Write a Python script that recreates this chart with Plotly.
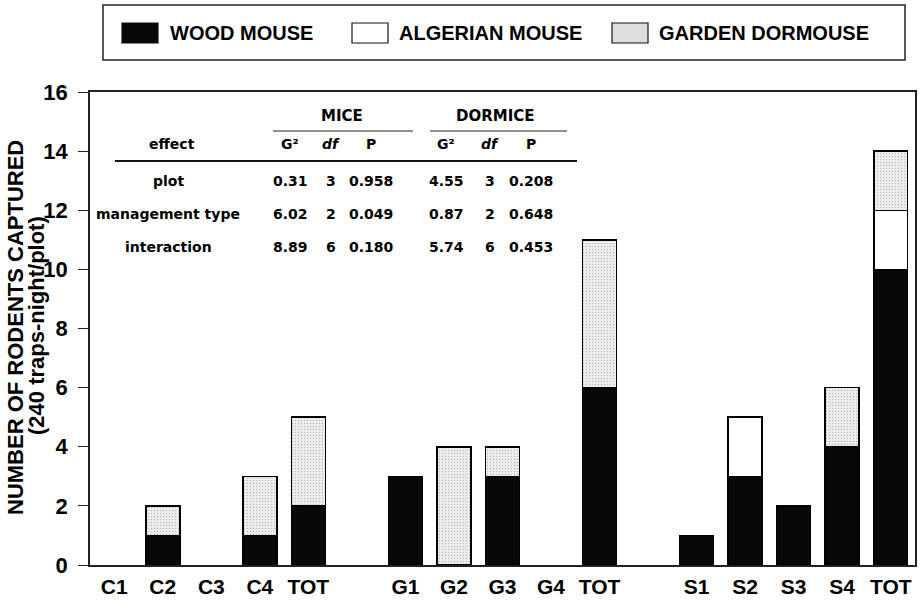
import plotly.graph_objects as go

# Capture counts per plot (240 traps-night per plot), grouped by management type
categories = ["C1", "C2", "C3", "C4", "TOT",
              "G1", "G2", "G3", "G4", "TOT",
              "S1", "S2", "S3", "S4", "TOT"]
wood_mouse = [0, 1, 0, 1, 2, 3, 0, 3, 0, 6, 1, 3, 2, 4, 10]
algerian_mouse = [0, 0, 0, 0, 0, 0, 0, 0, 0, 0, 0, 2, 0, 0, 2]
garden_dormouse = [0, 1, 0, 2, 3, 0, 4, 1, 0, 5, 0, 0, 0, 2, 2]

# G-test summary
effects = ["plot", "management type", "interaction"]
mice_g2 = ["0.31", "6.02", "8.89"]
mice_df = ["3", "2", "6"]
mice_p = ["0.958", "0.049", "0.180"]
dorm_g2 = ["4.55", "0.87", "5.74"]
dorm_df = ["3", "2", "6"]
dorm_p = ["0.208", "0.648", "0.453"]

GROUP = 5  # plots per management type, one empty slot between groups
xpos = [i + i // GROUP for i in range(len(categories))]


def nz(vals):
    return [v if v else None for v in vals]


FONT = "Liberation Sans, Arial, Helvetica, sans-serif"
TFONT = "DejaVu Sans, Verdana, sans-serif"
BAR_W = 0.7
OUTLINE = dict(color="black", width=1.5)

fig = go.Figure()
fig.add_bar(x=xpos, y=nz(wood_mouse), width=BAR_W, name="WOOD MOUSE",
            marker=dict(color="#080808", line=OUTLINE))
fig.add_bar(x=xpos, y=nz(algerian_mouse), width=BAR_W, name="ALGERIAN MOUSE",
            marker=dict(color="white", line=OUTLINE))
fig.add_bar(x=xpos, y=nz(garden_dormouse), width=BAR_W, name="GARDEN DORMOUSE",
            marker=dict(color="#e8e8e8", line=OUTLINE,
                        pattern=dict(shape=".", fgcolor="#8a8a8a", bgcolor="#eeeeee",
                                     size=3, solidity=0.2)))

# plot area in pixels: left, right, top, bottom
L, R, T, B = 90, 915, 92, 565


def pxx(x):
    return (x - L) / (R - L)


def pxy(y):
    return (B - y) / (B - T)


ann = []
shapes = []

# y axis title, two lines
ann.append(dict(x=pxx(15), y=pxy(328), text="NUMBER OF RODENTS CAPTURED", textangle=-90,
                font=dict(family=FONT, size=22, color="black", weight="bold")))
ann.append(dict(x=pxx(36), y=pxy(326), text="(240 traps-night/plot)", textangle=-90,
                font=dict(family=FONT, size=22, color="black", weight="bold")))

# legend box
shapes.append(dict(type="rect", xref="paper", yref="paper", x0=pxx(103), x1=pxx(905),
                   y0=pxy(60), y1=pxy(5), line=dict(color="#222", width=1.5),
                   fillcolor="white", layer="below"))
legend_items = [("WOOD MOUSE", "#080808", 122, 168),
                ("ALGERIAN MOUSE", "white", 352, 397),
                ("GARDEN DORMOUSE", "#dedede", 612, 657)]
for label, col, sx, tx in legend_items:
    shapes.append(dict(type="rect", xref="paper", yref="paper", x0=pxx(sx), x1=pxx(sx + 36),
                       y0=pxy(43), y1=pxy(23), line=dict(color="#111", width=1.2),
                       fillcolor=col))
    ann.append(dict(x=pxx(tx), y=pxy(33), text=label, xanchor="left",
                    font=dict(family=FONT, size=20, color="black", weight="bold")))

# statistics table
tf = dict(family=TFONT, size=14, color="black", weight="bold")
ann.append(dict(x=pxx(342), y=pxy(116), text="MICE", font=dict(tf, size=15)))
ann.append(dict(x=pxx(495), y=pxy(116), text="DORMICE", font=dict(tf, size=15)))
shapes.append(dict(type="line", xref="paper", yref="paper", x0=pxx(273), x1=pxx(413),
                   y0=pxy(131), y1=pxy(131), line=dict(color="#222", width=1.2)))
shapes.append(dict(type="line", xref="paper", yref="paper", x0=pxx(430), x1=pxx(567),
                   y0=pxy(131), y1=pxy(131), line=dict(color="#222", width=1.2)))
shapes.append(dict(type="line", xref="paper", yref="paper", x0=pxx(115), x1=pxx(577),
                   y0=pxy(161), y1=pxy(161), line=dict(color="#111", width=2)))

cols = [290, 331, 371, 446, 490, 531]
headers = ["G²", "<i>df</i>", "P", "G²", "<i>df</i>", "P"]
ann.append(dict(x=pxx(172), y=pxy(144), text="effect", font=tf))
for cx, h in zip(cols, headers):
    ann.append(dict(x=pxx(cx), y=pxy(144), text=h, font=tf))

rows_y = [181, 214, 247]
for i, ry in enumerate(rows_y):
    ann.append(dict(x=pxx(168), y=pxy(ry), text=effects[i], font=tf))
    vals = [mice_g2[i], mice_df[i], mice_p[i], dorm_g2[i], dorm_df[i], dorm_p[i]]
    for cx, v in zip(cols, vals):
        ann.append(dict(x=pxx(cx), y=pxy(ry), text=v, font=tf))

for a in ann:
    a.update(xref="paper", yref="paper", showarrow=False)
    a.setdefault("xanchor", "center")
    a.setdefault("yanchor", "middle")

fig.update_layout(
    barmode="stack",
    width=924, height=600,
    margin=dict(l=L, r=924 - R, t=T, b=600 - B, autoexpand=False),
    paper_bgcolor="white", plot_bgcolor="white",
    showlegend=False,
    annotations=ann, shapes=shapes,
    xaxis=dict(range=[-0.5, xpos[-1] + 0.5], tickmode="array", tickvals=xpos,
               ticktext=categories, showgrid=False, zeroline=False,
               showline=True, linecolor="#222", linewidth=1.5, mirror=True,
               ticks="", ticklabelstandoff=2,
               tickfont=dict(family=FONT, size=21, color="black", weight="bold")),
    yaxis=dict(range=[0, 16], dtick=2, showgrid=False, zeroline=False,
               showline=True, linecolor="#222", linewidth=1.5, mirror=True,
               ticks="outside", ticklen=10, tickwidth=1.2, tickcolor="#222",
               ticklabelstandoff=6,
               tickfont=dict(family=FONT, size=22, color="black", weight="bold")),
)

fig.write_html("out.html")
